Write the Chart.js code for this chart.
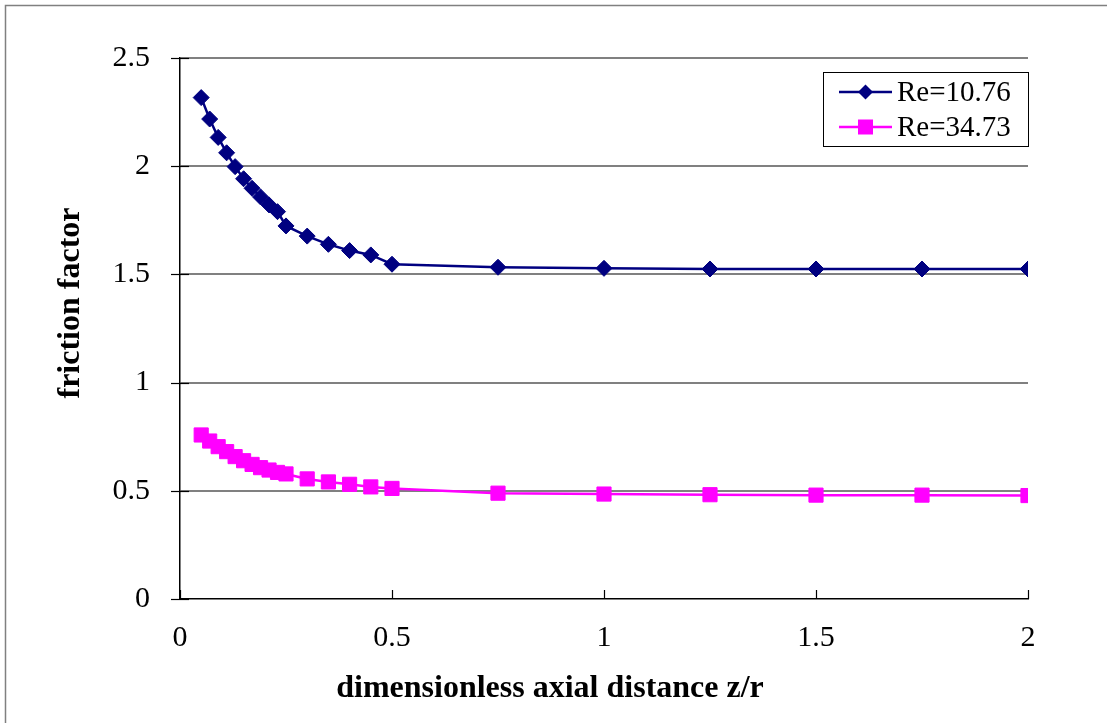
<!DOCTYPE html>
<html>
<head>
<meta charset="utf-8">
<script src="https://cdn.jsdelivr.net/npm/chart.js"></script>
<style>
  html, body { margin: 0; padding: 0; background: #fff; }
  #wrap { width: 1107px; height: 723px; }
</style>
</head>
<body>
<div id="wrap"><canvas id="c" width="1107" height="723"></canvas></div>
<script>
// ---- data ----
const xValues = [0.05, 0.07, 0.09, 0.11, 0.13, 0.15, 0.17, 0.19, 0.21, 0.23, 0.25, 0.3, 0.35, 0.4, 0.45, 0.5, 0.75, 1, 1.25, 1.5, 1.75, 2];
const re1076 = [2.317, 2.218, 2.133, 2.062, 1.998, 1.942, 1.898, 1.858, 1.821, 1.790, 1.724, 1.677, 1.639, 1.610, 1.590, 1.547, 1.533, 1.528, 1.525, 1.525, 1.525, 1.525];
const re3473 = [0.758, 0.730, 0.704, 0.681, 0.658, 0.639, 0.622, 0.607, 0.596, 0.585, 0.578, 0.555, 0.541, 0.530, 0.518, 0.511, 0.489, 0.485, 0.482, 0.480, 0.480, 0.478];
const seriesLabels = ['Re=10.76', 'Re=34.73'];
const xTicks = [0, 0.5, 1, 1.5, 2];
const yTicks = [0, 0.5, 1, 1.5, 2, 2.5];
const xTitle = 'dimensionless axial distance z/r';
const yTitle = 'friction factor';

const SERIF = "'Liberation Serif', 'Times New Roman', serif";
const toPts = (ys) => xValues.map((x, i) => ({ x: x, y: ys[i] }));

const frame = {
  id: 'frame',
  beforeDraw(chart) {
    const ctx = chart.ctx;
    ctx.save();
    ctx.fillStyle = '#fff';
    ctx.fillRect(0, 0, chart.width, chart.height);
    ctx.strokeStyle = '#808080';
    ctx.lineWidth = 1.5;
    ctx.strokeRect(5.5, 5.5, chart.width + 50, chart.height + 50);
    ctx.restore();
  },
  beforeDatasetsDraw(chart) {
    const ctx = chart.ctx;
    const xs = chart.scales.x, ys = chart.scales.y;
    const ax = xs.left, ay = ys.bottom;
    ctx.save();
    ctx.strokeStyle = '#000';
    ctx.lineWidth = 1.2;
    ys.ticks.forEach(t => {
      const py = Math.round(ys.getPixelForValue(t.value)) + 0.5;
      ctx.beginPath(); ctx.moveTo(ax - 9, py); ctx.lineTo(ax + 9, py); ctx.stroke();
    });
    xs.ticks.forEach(t => {
      const px = Math.round(xs.getPixelForValue(t.value)) + 0.5;
      ctx.beginPath(); ctx.moveTo(px, ay); ctx.lineTo(px, ay - 9); ctx.stroke();
    });
    ctx.restore();
  },
  afterDraw(chart) {
    const ctx = chart.ctx;
    ctx.save();
    // axis titles
    ctx.fillStyle = '#000';
    ctx.font = "bold 32px " + SERIF;
    ctx.textAlign = 'center';
    ctx.textBaseline = 'alphabetic';
    ctx.fillText(xTitle, 550, 697);
    ctx.save();
    ctx.translate(79, 303);
    ctx.rotate(-Math.PI / 2);
    ctx.fillText(yTitle, 0, 0);
    ctx.restore();

    // legend
    const bx = 823.5, by = 72.5, bw = 205, bh = 74;
    ctx.fillStyle = '#fff';
    ctx.fillRect(bx, by, bw, bh);
    ctx.strokeStyle = '#000';
    ctx.lineWidth = 1;
    ctx.strokeRect(bx, by, bw, bh);
    chart.data.datasets.forEach((ds, i) => {
      const cy = 92 + i * 35;
      ctx.strokeStyle = ds.borderColor;
      ctx.lineWidth = 2.5;
      ctx.beginPath(); ctx.moveTo(839, cy); ctx.lineTo(892, cy); ctx.stroke();
      ctx.fillStyle = ds.backgroundColor;
      const cx = 865.5;
      if (ds.pointStyle === 'rectRot') {
        const r = 7.5;
        ctx.beginPath();
        ctx.moveTo(cx, cy - r); ctx.lineTo(cx + r, cy); ctx.lineTo(cx, cy + r); ctx.lineTo(cx - r, cy);
        ctx.closePath(); ctx.fill();
      } else {
        const s = 7.5;
        ctx.fillRect(cx - s, cy - s, 2 * s, 2 * s);
      }
      ctx.fillStyle = '#000';
      ctx.font = "29px " + SERIF;
      ctx.textAlign = 'left';
      ctx.textBaseline = 'middle';
      ctx.fillText(ds.label, 897, cy + 1);
    });
    ctx.restore();
  }
};

new Chart(document.getElementById('c'), {
  type: 'scatter',
  data: {
    datasets: [
      {
        label: seriesLabels[0],
        data: toPts(re1076),
        showLine: true,
        borderColor: '#000080',
        backgroundColor: '#000080',
        borderWidth: 2.5,
        pointStyle: 'rectRot',
        pointRadius: 8,
        pointHoverRadius: 8,
        pointBorderWidth: 1,
        tension: 0
      },
      {
        label: seriesLabels[1],
        data: toPts(re3473),
        showLine: true,
        borderColor: '#FF00FF',
        backgroundColor: '#FF00FF',
        borderWidth: 2.5,
        pointStyle: 'rect',
        pointRadius: 10,
        pointHoverRadius: 10,
        pointBorderWidth: 1,
        tension: 0
      }
    ]
  },
  options: {
    responsive: false,
    animation: false,
    events: [],
    layout: { padding: { top: 58, right: 79, left: 0, bottom: 0 } },
    plugins: {
      legend: { display: false },
      tooltip: { enabled: false }
    },
    scales: {
      x: {
        type: 'linear',
        min: 0, max: 2,
        afterBuildTicks: (s) => { s.ticks = xTicks.map(v => ({ value: v })); },
        afterFit: (s) => { s.height = 124; },
        grid: { display: false, drawTicks: false },
        border: { display: true, color: '#000', width: 1.5 },
        ticks: {
          color: '#000',
          padding: 21,
          maxRotation: 0,
          font: { family: SERIF, size: 30 },
          callback: (v) => String(v)
        }
      },
      y: {
        type: 'linear',
        min: 0, max: 2.5,
        afterBuildTicks: (s) => { s.ticks = yTicks.map(v => ({ value: v })); },
        afterFit: (s) => { s.width = 180; },
        grid: {
          drawTicks: false,
          lineWidth: 2,
          color: (c) => (c.tick && c.tick.value === 0) ? 'rgba(0,0,0,0)' : '#808080'
        },
        border: { display: true, color: '#000', width: 1.5 },
        ticks: {
          color: '#000',
          padding: 30,
          font: { family: SERIF, size: 30 },
          callback: (v) => String(v)
        }
      }
    }
  },
  plugins: [frame]
});
</script>
</body>
</html>
